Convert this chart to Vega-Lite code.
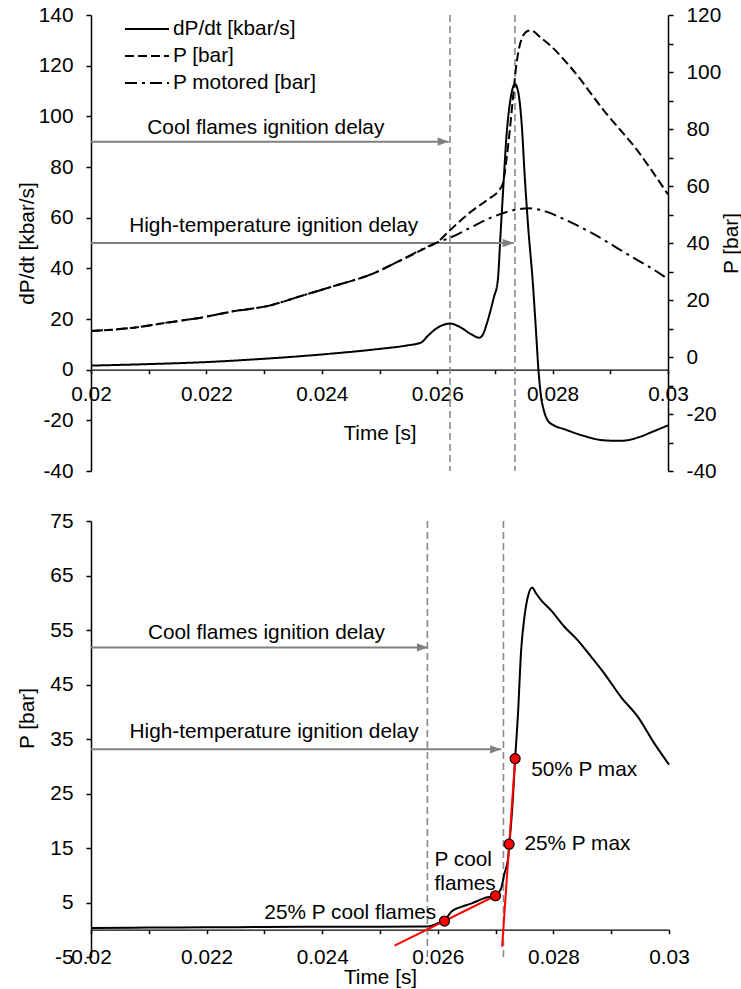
{
  "$schema": "https://vega.github.io/schema/vega-lite/v6.json",
  "background": "white",
  "padding": {"left": 16, "top": 4, "right": 5, "bottom": 2},
  "spacing": 29,
  "config": {
    "font": "Liberation Sans",
    "view": {"stroke": null},
    "axis": {
      "labelFont": "Liberation Sans", "labelFontSize": 20.8, "labelColor": "black",
      "titleFont": "Liberation Sans", "titleFontSize": 20.8, "titleFontWeight": "normal", "titleColor": "black",
      "domainColor": "black", "tickColor": "black", "grid": false, "domainWidth": 1.5, "tickWidth": 1.5,
      "labelFlush": false, "labelOverlap": false
    },
    "text": {"font": "Liberation Sans", "fontSize": 20.8, "color": "black"}
  },
  "resolve": {"scale": {"strokeDash": "independent"}, "legend": {"strokeDash": "independent"}},
  "datasets": {
    "top": [
      {"s": "dP/dt [kbar/s]", "t": 0.02, "v": 1.6},
      {"s": "dP/dt [kbar/s]", "t": 0.021, "v": 2.2},
      {"s": "dP/dt [kbar/s]", "t": 0.022, "v": 3.0},
      {"s": "dP/dt [kbar/s]", "t": 0.023, "v": 4.3},
      {"s": "dP/dt [kbar/s]", "t": 0.024, "v": 6.0},
      {"s": "dP/dt [kbar/s]", "t": 0.025, "v": 8.2},
      {"s": "dP/dt [kbar/s]", "t": 0.02546, "v": 9.5},
      {"s": "dP/dt [kbar/s]", "t": 0.02572, "v": 10.7},
      {"s": "dP/dt [kbar/s]", "t": 0.025835, "v": 13.3},
      {"s": "dP/dt [kbar/s]", "t": 0.02601, "v": 16.6},
      {"s": "dP/dt [kbar/s]", "t": 0.026222, "v": 18.2},
      {"s": "dP/dt [kbar/s]", "t": 0.026412, "v": 16.6},
      {"s": "dP/dt [kbar/s]", "t": 0.026586, "v": 14.0},
      {"s": "dP/dt [kbar/s]", "t": 0.02673, "v": 12.6},
      {"s": "dP/dt [kbar/s]", "t": 0.026794, "v": 14.0},
      {"s": "dP/dt [kbar/s]", "t": 0.026863, "v": 18.4},
      {"s": "dP/dt [kbar/s]", "t": 0.026932, "v": 24.0},
      {"s": "dP/dt [kbar/s]", "t": 0.026984, "v": 28.7},
      {"s": "dP/dt [kbar/s]", "t": 0.027049, "v": 35.0},
      {"s": "dP/dt [kbar/s]", "t": 0.027101, "v": 54.8},
      {"s": "dP/dt [kbar/s]", "t": 0.027152, "v": 74.5},
      {"s": "dP/dt [kbar/s]", "t": 0.027201, "v": 92.3},
      {"s": "dP/dt [kbar/s]", "t": 0.027253, "v": 104.0},
      {"s": "dP/dt [kbar/s]", "t": 0.027296, "v": 110.0},
      {"s": "dP/dt [kbar/s]", "t": 0.027348, "v": 112.7},
      {"s": "dP/dt [kbar/s]", "t": 0.027409, "v": 109.0},
      {"s": "dP/dt [kbar/s]", "t": 0.027461, "v": 98.0},
      {"s": "dP/dt [kbar/s]", "t": 0.027522, "v": 74.5},
      {"s": "dP/dt [kbar/s]", "t": 0.027582, "v": 54.8},
      {"s": "dP/dt [kbar/s]", "t": 0.027655, "v": 35.0},
      {"s": "dP/dt [kbar/s]", "t": 0.027712, "v": 15.3},
      {"s": "dP/dt [kbar/s]", "t": 0.027756, "v": -0.5},
      {"s": "dP/dt [kbar/s]", "t": 0.027799, "v": -10.4},
      {"s": "dP/dt [kbar/s]", "t": 0.027851, "v": -16.3},
      {"s": "dP/dt [kbar/s]", "t": 0.02792, "v": -20.2},
      {"s": "dP/dt [kbar/s]", "t": 0.028007, "v": -21.8},
      {"s": "dP/dt [kbar/s]", "t": 0.028203, "v": -23.5},
      {"s": "dP/dt [kbar/s]", "t": 0.028549, "v": -26.2},
      {"s": "dP/dt [kbar/s]", "t": 0.028896, "v": -27.9},
      {"s": "dP/dt [kbar/s]", "t": 0.029185, "v": -28.1},
      {"s": "dP/dt [kbar/s]", "t": 0.029475, "v": -26.8},
      {"s": "dP/dt [kbar/s]", "t": 0.029763, "v": -24.2},
      {"s": "dP/dt [kbar/s]", "t": 0.03, "v": -22.0},
      {"s": "P [bar]", "t": 0.02, "v": 9.1},
      {"s": "P [bar]", "t": 0.020745, "v": 10.3},
      {"s": "P [bar]", "t": 0.021329, "v": 12.1},
      {"s": "P [bar]", "t": 0.021906, "v": 13.8},
      {"s": "P [bar]", "t": 0.022483, "v": 16.1},
      {"s": "P [bar]", "t": 0.023062, "v": 17.9},
      {"s": "P [bar]", "t": 0.02364, "v": 21.4},
      {"s": "P [bar]", "t": 0.024211, "v": 24.9},
      {"s": "P [bar]", "t": 0.024853, "v": 29.0},
      {"s": "P [bar]", "t": 0.025425, "v": 34.5},
      {"s": "P [bar]", "t": 0.025806, "v": 38.3},
      {"s": "P [bar]", "t": 0.026014, "v": 40.5},
      {"s": "P [bar]", "t": 0.026222, "v": 44.5},
      {"s": "P [bar]", "t": 0.026586, "v": 51.0},
      {"s": "P [bar]", "t": 0.02688, "v": 55.3},
      {"s": "P [bar]", "t": 0.027071, "v": 58.5},
      {"s": "P [bar]", "t": 0.02714, "v": 61.0},
      {"s": "P [bar]", "t": 0.027192, "v": 68.0},
      {"s": "P [bar]", "t": 0.02725, "v": 78.0},
      {"s": "P [bar]", "t": 0.027308, "v": 89.8},
      {"s": "P [bar]", "t": 0.027366, "v": 101.5},
      {"s": "P [bar]", "t": 0.027452, "v": 110.9},
      {"s": "P [bar]", "t": 0.027568, "v": 114.4},
      {"s": "P [bar]", "t": 0.027626, "v": 114.6},
      {"s": "P [bar]", "t": 0.027799, "v": 112.0},
      {"s": "P [bar]", "t": 0.027972, "v": 109.1},
      {"s": "P [bar]", "t": 0.028319, "v": 101.5},
      {"s": "P [bar]", "t": 0.028896, "v": 86.3},
      {"s": "P [bar]", "t": 0.029475, "v": 72.3},
      {"s": "P [bar]", "t": 0.03, "v": 57.0},
      {"s": "P motored [bar]", "t": 0.02, "v": 9.1},
      {"s": "P motored [bar]", "t": 0.020745, "v": 10.3},
      {"s": "P motored [bar]", "t": 0.021329, "v": 12.1},
      {"s": "P motored [bar]", "t": 0.021906, "v": 13.8},
      {"s": "P motored [bar]", "t": 0.022483, "v": 16.1},
      {"s": "P motored [bar]", "t": 0.023062, "v": 17.9},
      {"s": "P motored [bar]", "t": 0.02364, "v": 21.4},
      {"s": "P motored [bar]", "t": 0.024211, "v": 24.9},
      {"s": "P motored [bar]", "t": 0.024853, "v": 29.0},
      {"s": "P motored [bar]", "t": 0.025425, "v": 34.5},
      {"s": "P motored [bar]", "t": 0.025806, "v": 38.5},
      {"s": "P motored [bar]", "t": 0.026014, "v": 40.3},
      {"s": "P motored [bar]", "t": 0.026239, "v": 42.0},
      {"s": "P motored [bar]", "t": 0.026586, "v": 45.5},
      {"s": "P motored [bar]", "t": 0.026932, "v": 48.9},
      {"s": "P motored [bar]", "t": 0.027279, "v": 51.3},
      {"s": "P motored [bar]", "t": 0.027574, "v": 52.2},
      {"s": "P motored [bar]", "t": 0.027886, "v": 51.0},
      {"s": "P motored [bar]", "t": 0.028203, "v": 48.3},
      {"s": "P motored [bar]", "t": 0.028723, "v": 43.0},
      {"s": "P motored [bar]", "t": 0.029302, "v": 36.0},
      {"s": "P motored [bar]", "t": 0.029879, "v": 29.0},
      {"s": "P motored [bar]", "t": 0.03, "v": 27.3}
    ],
    "bottom": [
      {"t": 0.02, "v": 0.3},
      {"t": 0.021, "v": 0.4},
      {"t": 0.022, "v": 0.45},
      {"t": 0.023, "v": 0.5},
      {"t": 0.024, "v": 0.55},
      {"t": 0.025, "v": 0.55},
      {"t": 0.025829, "v": 0.6},
      {"t": 0.026002, "v": 1.2},
      {"t": 0.026116, "v": 1.7},
      {"t": 0.026232, "v": 3.3},
      {"t": 0.026405, "v": 4.2},
      {"t": 0.026577, "v": 4.8},
      {"t": 0.026807, "v": 5.8},
      {"t": 0.02701, "v": 6.4},
      {"t": 0.027096, "v": 7.6},
      {"t": 0.027153, "v": 10.3},
      {"t": 0.027212, "v": 12.8},
      {"t": 0.027239, "v": 15.8},
      {"t": 0.027298, "v": 23.8},
      {"t": 0.027338, "v": 31.4},
      {"t": 0.027385, "v": 39.1},
      {"t": 0.027442, "v": 51.3},
      {"t": 0.027499, "v": 57.4},
      {"t": 0.027558, "v": 61.1},
      {"t": 0.027632, "v": 62.8},
      {"t": 0.027701, "v": 61.7},
      {"t": 0.027787, "v": 60.5},
      {"t": 0.02796, "v": 58.6},
      {"t": 0.02819, "v": 55.6},
      {"t": 0.028422, "v": 53.1},
      {"t": 0.028652, "v": 50.1},
      {"t": 0.028882, "v": 47.0},
      {"t": 0.02917, "v": 42.7},
      {"t": 0.029459, "v": 39.1},
      {"t": 0.029746, "v": 34.2},
      {"t": 0.03, "v": 30.3}
    ],
    "vlines": [
      {"panel": "top", "t": 0.026222},
      {"panel": "top", "t": 0.027348},
      {"panel": "bottom", "t": 0.02582},
      {"panel": "bottom", "t": 0.027136}
    ],
    "arrows": [
      {"panel": "top", "t": 0.02, "t2": 0.026199, "v": 90},
      {"panel": "top", "t": 0.02, "t2": 0.027326, "v": 50},
      {"panel": "bottom", "t": 0.02, "t2": 0.025829, "v": 51.8},
      {"panel": "bottom", "t": 0.02, "t2": 0.027096, "v": 33.1}
    ],
    "heads": [
      {"panel": "top", "t": 0.026199, "v": 90},
      {"panel": "top", "t": 0.027326, "v": 50},
      {"panel": "bottom", "t": 0.025829, "v": 51.8},
      {"panel": "bottom", "t": 0.027096, "v": 33.1}
    ],
    "notes": [
      {"panel": "top", "t": 0.02303, "v": 95.4, "label": "Cool flames ignition delay"},
      {"panel": "top", "t": 0.023166, "v": 56.7, "label": "High-temperature ignition delay"},
      {"panel": "bottom", "t": 0.023034, "v": 54.4, "label": "Cool flames ignition delay"},
      {"panel": "bottom", "t": 0.023167, "v": 36.3, "label": "High-temperature ignition delay"}
    ],
    "tangents": [
      {"line": "cool", "t": 0.025252, "v": -2.9},
      {"line": "cool", "t": 0.026998, "v": 6.24},
      {"line": "hot", "t": 0.027113, "v": -3.1},
      {"line": "hot", "t": 0.027338, "v": 31.4}
    ],
    "points": [
      {"name": "25% P cool flames", "t": 0.026116, "v": 1.6},
      {"name": "P cool flames", "t": 0.026998, "v": 6.24},
      {"name": "25% P max", "t": 0.027234, "v": 15.7},
      {"name": "50% P max", "t": 0.027338, "v": 31.4}
    ],
    "pointLabels": [
      {"label": "25% P cool flames", "t": 0.025972, "v": 3.07},
      {"label": "P cool\nflames", "t": 0.025943, "v": 12.8},
      {"label": "25% P max", "t": 0.027499, "v": 15.7},
      {"label": "50% P max", "t": 0.027615, "v": 29.4}
    ]
  },
  "vconcat": [
    {
      "width": 577,
      "height": 456,
      "encoding": {
        "x": {
          "field": "t", "type": "quantitative",
          "scale": {"domain": [0.02, 0.03], "nice": false, "zero": false},
          "axis": {
            "title": "Time [s]",
            "values": [0.02, 0.021, 0.022, 0.023, 0.024, 0.025, 0.026, 0.027, 0.028, 0.029, 0.03],
            "labelExpr": "round(datum.value*1000) % 2 == 0 ? '' + datum.value : ''",
            "offset": -101.3, "tickSize": 4, "labelPadding": 11, "titlePadding": 19,
            "domainWidth": 1.2
          }
        }
      },
      "layer": [
        {
          "layer": [
            {
              "data": {"name": "vlines"},
              "transform": [{"filter": "datum.panel == 'top'"}],
              "mark": {"type": "rule", "color": "#8a8a8a", "strokeDash": [7, 4], "strokeWidth": 1.6},
              "encoding": {}
            },
            {
              "data": {"name": "top"},
              "transform": [{"filter": "datum.s == 'dP/dt [kbar/s]'"}],
              "mark": {"type": "line", "color": "black", "strokeWidth": 2, "interpolate": "monotone"},
              "encoding": {
                "y": {
                  "field": "v", "type": "quantitative",
                  "scale": {"domain": [-40, 140], "nice": false, "zero": false},
                  "axis": {
                    "orient": "left", "title": "dP/dt [kbar/s]",
                    "values": [-40, -30, -20, -10, 0, 10, 20, 30, 40, 50, 60, 70, 80, 90, 100, 110, 120, 130, 140],
                    "labelExpr": "datum.value % 20 == 0 ? '' + datum.value : ''",
                    "tickSize": 5, "labelPadding": 13,
                    "titleX": -64, "titleY": 228, "titleAngle": 270, "titleBaseline": "middle", "titleAlign": "center"
                  }
                },
                "strokeDash": {
                  "field": "s", "type": "nominal",
                  "scale": {"domain": ["dP/dt [kbar/s]", "P [bar]", "P motored [bar]"], "range": [[1, 0], [9, 4], [12, 5, 3, 5]]},
                  "legend": {
                    "orient": "none", "legendX": 33, "legendY": 4, "title": null,
                    "symbolType": "stroke", "symbolSize": 1936, "symbolStrokeWidth": 2, "symbolStrokeColor": "black",
                    "labelFont": "Liberation Sans", "labelFontSize": 20.8, "labelColor": "black",
                    "labelOffset": 3, "rowPadding": 6, "clipHeight": 20, "padding": 0
                  }
                }
              }
            },
            {
              "data": {"name": "arrows"},
              "transform": [{"filter": "datum.panel == 'top'"}],
              "mark": {"type": "rule", "color": "#808080", "strokeWidth": 2},
              "encoding": {
                "x2": {"field": "t2"},
                "y": {"field": "v", "type": "quantitative", "scale": {"domain": [-40, 140], "nice": false, "zero": false}}
              }
            },
            {
              "data": {"name": "heads"},
              "transform": [{"filter": "datum.panel == 'top'"}],
              "mark": {"type": "point", "shape": "M-1,-0.75L1,0L-1,0.75Z", "filled": true, "color": "#808080", "size": 121, "opacity": 1, "xOffset": -5.5},
              "encoding": {
                "y": {"field": "v", "type": "quantitative", "scale": {"domain": [-40, 140], "nice": false, "zero": false}}
              }
            },
            {
              "data": {"name": "notes"},
              "transform": [{"filter": "datum.panel == 'top'"}],
              "mark": {"type": "text", "align": "center", "baseline": "middle", "fontSize": 20.8, "color": "black"},
              "encoding": {
                "y": {"field": "v", "type": "quantitative", "scale": {"domain": [-40, 140], "nice": false, "zero": false}},
                "text": {"field": "label"}
              }
            }
          ]
        },
        {
          "data": {"name": "top"},
          "transform": [{"filter": "datum.s != 'dP/dt [kbar/s]'"}],
          "mark": {"type": "line", "color": "black", "strokeWidth": 2, "interpolate": "monotone"},
          "encoding": {
            "y": {
              "field": "v", "type": "quantitative",
              "scale": {"domain": [-40, 120], "nice": false, "zero": false},
              "axis": {
                "orient": "right", "title": "P [bar]",
                "values": [-40, -30, -20, -10, 0, 10, 20, 30, 40, 50, 60, 70, 80, 90, 100, 110, 120],
                "labelExpr": "datum.value % 20 == 0 ? '' + datum.value : ''",
                "tickSize": 5, "labelPadding": 13, "labelAlign": "left",
                "titleX": 63, "titleY": 228, "titleAngle": 270, "titleBaseline": "middle", "titleAlign": "center"
              }
            },
            "strokeDash": {
              "field": "s", "type": "nominal",
              "scale": {"domain": ["dP/dt [kbar/s]", "P [bar]", "P motored [bar]"], "range": [[1, 0], [9, 4], [12, 5, 3, 5]]},
              "legend": null
            }
          }
        }
      ],
      "resolve": {"scale": {"y": "independent"}}
    },
    {
      "width": 578,
      "height": 436,
      "encoding": {
        "x": {
          "field": "t", "type": "quantitative",
          "scale": {"domain": [0.02, 0.03], "nice": false, "zero": false},
          "axis": {
            "title": "Time [s]",
            "values": [0.02, 0.021, 0.022, 0.023, 0.024, 0.025, 0.026, 0.027, 0.028, 0.029, 0.03],
            "labelExpr": "round(datum.value*1000) % 2 == 0 ? '' + datum.value : ''",
            "offset": -27.3, "tickSize": 4, "labelPadding": 14, "titlePadding": 0,
            "domainWidth": 1.2
          }
        }
      },
      "layer": [
        {
          "data": {"name": "vlines"},
          "transform": [{"filter": "datum.panel == 'bottom'"}],
          "mark": {"type": "rule", "color": "#8a8a8a", "strokeDash": [7, 4], "strokeWidth": 1.6},
          "encoding": {}
        },
        {
          "data": {"name": "bottom"},
          "mark": {"type": "line", "color": "black", "strokeWidth": 2, "interpolate": "monotone"},
          "encoding": {
            "y": {
              "field": "v", "type": "quantitative",
              "scale": {"domain": [-5, 75], "nice": false, "zero": false},
              "axis": {
                "orient": "left", "title": "P [bar]",
                "values": [-5, 0, 5, 10, 15, 20, 25, 30, 35, 40, 45, 50, 55, 60, 65, 70, 75],
                "labelExpr": "(datum.value + 5) % 10 == 0 ? '' + datum.value : ''",
                "tickSize": 5, "labelPadding": 13,
                "titleX": -64, "titleY": 197, "titleAngle": 270, "titleBaseline": "middle", "titleAlign": "center"
              }
            }
          }
        },
        {
          "data": {"name": "arrows"},
          "transform": [{"filter": "datum.panel == 'bottom'"}],
          "mark": {"type": "rule", "color": "#808080", "strokeWidth": 2},
          "encoding": {
            "x2": {"field": "t2"},
            "y": {"field": "v", "type": "quantitative", "scale": {"domain": [-5, 75], "nice": false, "zero": false}}
          }
        },
        {
          "data": {"name": "heads"},
          "transform": [{"filter": "datum.panel == 'bottom'"}],
          "mark": {"type": "point", "shape": "M-1,-0.75L1,0L-1,0.75Z", "filled": true, "color": "#808080", "size": 121, "opacity": 1, "xOffset": -5.5},
          "encoding": {
            "y": {"field": "v", "type": "quantitative", "scale": {"domain": [-5, 75], "nice": false, "zero": false}}
          }
        },
        {
          "data": {"name": "notes"},
          "transform": [{"filter": "datum.panel == 'bottom'"}],
          "mark": {"type": "text", "align": "center", "baseline": "middle", "fontSize": 20.8, "color": "black"},
          "encoding": {
            "y": {"field": "v", "type": "quantitative", "scale": {"domain": [-5, 75], "nice": false, "zero": false}},
            "text": {"field": "label"}
          }
        },
        {
          "data": {"name": "tangents"},
          "mark": {"type": "line", "color": "red", "strokeWidth": 2},
          "encoding": {
            "y": {"field": "v", "type": "quantitative", "scale": {"domain": [-5, 75], "nice": false, "zero": false}},
            "detail": {"field": "line"}
          }
        },
        {
          "data": {"name": "points"},
          "mark": {"type": "point", "shape": "circle", "filled": true, "fill": "red", "stroke": "black", "strokeWidth": 1.2, "size": 100, "opacity": 1},
          "encoding": {
            "y": {"field": "v", "type": "quantitative", "scale": {"domain": [-5, 75], "nice": false, "zero": false}}
          }
        },
        {
          "data": {"name": "pointLabels"},
          "transform": [{"filter": {"field": "label", "oneOf": ["25% P cool flames"]}}],
          "mark": {"type": "text", "align": "right", "baseline": "middle", "fontSize": 20.8, "color": "black"},
          "encoding": {
            "y": {"field": "v", "type": "quantitative", "scale": {"domain": [-5, 75], "nice": false, "zero": false}},
            "text": {"field": "label"}
          }
        },
        {
          "data": {"name": "pointLabels"},
          "transform": [{"filter": {"field": "label", "oneOf": ["P cool\nflames", "25% P max", "50% P max"]}}],
          "mark": {"type": "text", "align": "left", "baseline": "middle", "fontSize": 20.8, "color": "black", "lineBreak": "\n", "lineHeight": 24},
          "encoding": {
            "y": {"field": "v", "type": "quantitative", "scale": {"domain": [-5, 75], "nice": false, "zero": false}},
            "text": {"field": "label"}
          }
        }
      ]
    }
  ]
}
